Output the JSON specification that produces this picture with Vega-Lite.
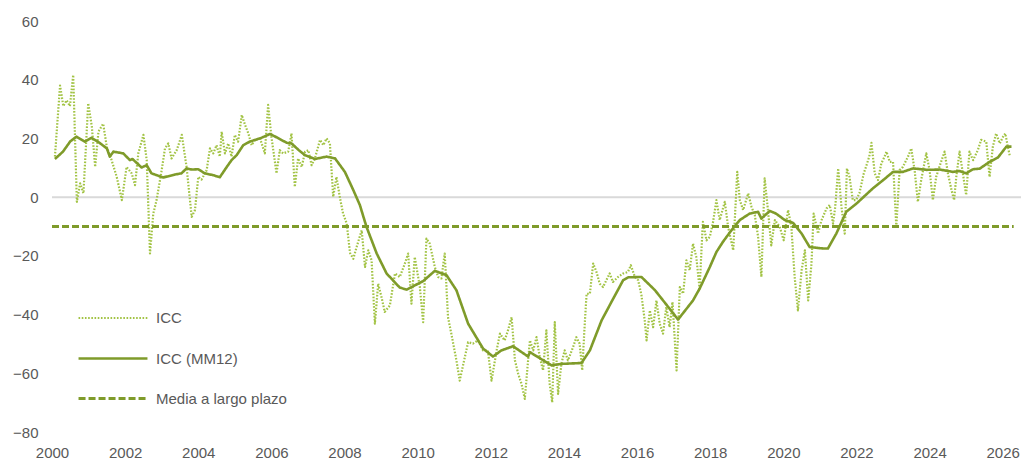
{
 "$schema": "https://vega.github.io/schema/vega-lite/v6.json",
 "width": 969, "height": 411,
 "autosize": {"type": "none"},
 "padding": {"left": 52, "top": 21, "right": 7, "bottom": 29},
 "background": "white",
 "config": {"view": {"stroke": null}, "font": "Liberation Sans"},
 "datasets": {
  "lines": [
{"t":2000.08,"v":13.8,"s":"ICC"},{"t":2000.22,"v":38,"s":"ICC"},{"t":2000.31,"v":31,"s":"ICC"},{"t":2000.40,"v":33,"s":"ICC"},{"t":2000.49,"v":31,"s":"ICC"},{"t":2000.58,"v":41.6,"s":"ICC"},{"t":2000.68,"v":-1.6,"s":"ICC"},{"t":2000.77,"v":4.7,"s":"ICC"},{"t":2000.86,"v":1.3,"s":"ICC"},{"t":2000.99,"v":32,"s":"ICC"},
{"t":2001.09,"v":24,"s":"ICC"},{"t":2001.18,"v":10.3,"s":"ICC"},{"t":2001.27,"v":22.3,"s":"ICC"},{"t":2001.40,"v":25,"s":"ICC"},{"t":2001.50,"v":17,"s":"ICC"},{"t":2001.63,"v":12.6,"s":"ICC"},{"t":2001.77,"v":6.9,"s":"ICC"},{"t":2001.91,"v":-1,"s":"ICC"},
{"t":2002.04,"v":10.3,"s":"ICC"},{"t":2002.18,"v":8.1,"s":"ICC"},{"t":2002.27,"v":4.1,"s":"ICC"},{"t":2002.36,"v":14.9,"s":"ICC"},{"t":2002.50,"v":21.2,"s":"ICC"},{"t":2002.59,"v":12.6,"s":"ICC"},{"t":2002.68,"v":-19.2,"s":"ICC"},{"t":2002.77,"v":-5.6,"s":"ICC"},{"t":2002.86,"v":-1,"s":"ICC"},
{"t":2003.00,"v":9.2,"s":"ICC"},{"t":2003.09,"v":16.6,"s":"ICC"},{"t":2003.18,"v":18.3,"s":"ICC"},{"t":2003.27,"v":13.2,"s":"ICC"},{"t":2003.41,"v":16,"s":"ICC"},{"t":2003.55,"v":21.2,"s":"ICC"},{"t":2003.68,"v":10.3,"s":"ICC"},{"t":2003.82,"v":-6.7,"s":"ICC"},{"t":2003.91,"v":-4.4,"s":"ICC"},
{"t":2004.00,"v":6.9,"s":"ICC"},{"t":2004.09,"v":6,"s":"ICC"},{"t":2004.23,"v":9.2,"s":"ICC"},{"t":2004.32,"v":16.6,"s":"ICC"},{"t":2004.41,"v":14.9,"s":"ICC"},{"t":2004.50,"v":17.7,"s":"ICC"},{"t":2004.59,"v":13.8,"s":"ICC"},{"t":2004.64,"v":22.3,"s":"ICC"},{"t":2004.73,"v":14.9,"s":"ICC"},{"t":2004.82,"v":18.3,"s":"ICC"},{"t":2004.91,"v":13.8,"s":"ICC"},
{"t":2005.00,"v":21.2,"s":"ICC"},{"t":2005.09,"v":18.9,"s":"ICC"},{"t":2005.19,"v":28,"s":"ICC"},{"t":2005.28,"v":24.6,"s":"ICC"},{"t":2005.37,"v":21.7,"s":"ICC"},{"t":2005.46,"v":17.7,"s":"ICC"},{"t":2005.55,"v":19.5,"s":"ICC"},{"t":2005.69,"v":20,"s":"ICC"},{"t":2005.82,"v":14.9,"s":"ICC"},{"t":2005.91,"v":31.4,"s":"ICC"},
{"t":2006.00,"v":20.6,"s":"ICC"},{"t":2006.14,"v":8.1,"s":"ICC"},{"t":2006.23,"v":16,"s":"ICC"},{"t":2006.32,"v":14.9,"s":"ICC"},{"t":2006.46,"v":15.5,"s":"ICC"},{"t":2006.55,"v":21.7,"s":"ICC"},{"t":2006.64,"v":3.5,"s":"ICC"},{"t":2006.73,"v":13.2,"s":"ICC"},{"t":2006.83,"v":10.3,"s":"ICC"},{"t":2006.92,"v":15.5,"s":"ICC"},
{"t":2007.01,"v":16,"s":"ICC"},{"t":2007.10,"v":10.9,"s":"ICC"},{"t":2007.19,"v":13.2,"s":"ICC"},{"t":2007.33,"v":19.5,"s":"ICC"},{"t":2007.42,"v":17.7,"s":"ICC"},{"t":2007.51,"v":20,"s":"ICC"},{"t":2007.60,"v":18.3,"s":"ICC"},{"t":2007.69,"v":0.1,"s":"ICC"},{"t":2007.78,"v":6.9,"s":"ICC"},{"t":2007.87,"v":0.1,"s":"ICC"},{"t":2007.96,"v":-5.6,"s":"ICC"},
{"t":2008.06,"v":-9,"s":"ICC"},{"t":2008.15,"v":-19,"s":"ICC"},{"t":2008.24,"v":-21,"s":"ICC"},{"t":2008.33,"v":-17,"s":"ICC"},{"t":2008.47,"v":-11.3,"s":"ICC"},{"t":2008.56,"v":-23.8,"s":"ICC"},{"t":2008.65,"v":-18.1,"s":"ICC"},{"t":2008.74,"v":-21.5,"s":"ICC"},{"t":2008.83,"v":-43.1,"s":"ICC"},{"t":2008.92,"v":-29.5,"s":"ICC"},
{"t":2009.01,"v":-34,"s":"ICC"},{"t":2009.10,"v":-39.1,"s":"ICC"},{"t":2009.24,"v":-36.9,"s":"ICC"},{"t":2009.38,"v":-26,"s":"ICC"},{"t":2009.51,"v":-27.2,"s":"ICC"},{"t":2009.65,"v":-22.6,"s":"ICC"},{"t":2009.74,"v":-19.2,"s":"ICC"},{"t":2009.83,"v":-36.3,"s":"ICC"},{"t":2009.92,"v":-20.4,"s":"ICC"},
{"t":2010.06,"v":-30.6,"s":"ICC"},{"t":2010.15,"v":-42.6,"s":"ICC"},{"t":2010.24,"v":-14.1,"s":"ICC"},{"t":2010.33,"v":-15.8,"s":"ICC"},{"t":2010.47,"v":-23.8,"s":"ICC"},{"t":2010.56,"v":-27.2,"s":"ICC"},{"t":2010.65,"v":-27.7,"s":"ICC"},{"t":2010.74,"v":-19.2,"s":"ICC"},{"t":2010.83,"v":-40.9,"s":"ICC"},{"t":2010.93,"v":-47.1,"s":"ICC"},
{"t":2011.06,"v":-55.6,"s":"ICC"},{"t":2011.15,"v":-62.5,"s":"ICC"},{"t":2011.29,"v":-54.5,"s":"ICC"},{"t":2011.38,"v":-49.4,"s":"ICC"},{"t":2011.51,"v":-49.9,"s":"ICC"},{"t":2011.65,"v":-48.8,"s":"ICC"},{"t":2011.79,"v":-52.2,"s":"ICC"},{"t":2011.92,"v":-52.2,"s":"ICC"},
{"t":2012.02,"v":-62.5,"s":"ICC"},{"t":2012.16,"v":-52.2,"s":"ICC"},{"t":2012.25,"v":-46.5,"s":"ICC"},{"t":2012.38,"v":-48.8,"s":"ICC"},{"t":2012.47,"v":-45.4,"s":"ICC"},{"t":2012.57,"v":-40.9,"s":"ICC"},{"t":2012.66,"v":-55.6,"s":"ICC"},{"t":2012.75,"v":-60.2,"s":"ICC"},{"t":2012.84,"v":-63.6,"s":"ICC"},{"t":2012.93,"v":-68.7,"s":"ICC"},
{"t":2013.02,"v":-55.6,"s":"ICC"},{"t":2013.07,"v":-48.8,"s":"ICC"},{"t":2013.16,"v":-52.2,"s":"ICC"},{"t":2013.25,"v":-47.7,"s":"ICC"},{"t":2013.34,"v":-54.5,"s":"ICC"},{"t":2013.43,"v":-59,"s":"ICC"},{"t":2013.52,"v":-45.4,"s":"ICC"},{"t":2013.61,"v":-63.6,"s":"ICC"},{"t":2013.68,"v":-69.9,"s":"ICC"},{"t":2013.75,"v":-42.6,"s":"ICC"},{"t":2013.84,"v":-67,"s":"ICC"},{"t":2013.93,"v":-56.8,"s":"ICC"},
{"t":2014.02,"v":-52.2,"s":"ICC"},{"t":2014.11,"v":-55.6,"s":"ICC"},{"t":2014.25,"v":-51.1,"s":"ICC"},{"t":2014.34,"v":-47.7,"s":"ICC"},{"t":2014.43,"v":-49.9,"s":"ICC"},{"t":2014.50,"v":-59,"s":"ICC"},{"t":2014.57,"v":-43.1,"s":"ICC"},{"t":2014.62,"v":-32.9,"s":"ICC"},{"t":2014.71,"v":-32.9,"s":"ICC"},{"t":2014.80,"v":-22.6,"s":"ICC"},{"t":2014.89,"v":-25.5,"s":"ICC"},{"t":2014.98,"v":-29.5,"s":"ICC"},
{"t":2015.07,"v":-30.6,"s":"ICC"},{"t":2015.16,"v":-28.3,"s":"ICC"},{"t":2015.25,"v":-26,"s":"ICC"},{"t":2015.34,"v":-28.9,"s":"ICC"},{"t":2015.48,"v":-27.2,"s":"ICC"},{"t":2015.62,"v":-26,"s":"ICC"},{"t":2015.75,"v":-25.5,"s":"ICC"},{"t":2015.83,"v":-23.2,"s":"ICC"},{"t":2015.94,"v":-27.2,"s":"ICC"},
{"t":2016.03,"v":-28.3,"s":"ICC"},{"t":2016.12,"v":-33.4,"s":"ICC"},{"t":2016.21,"v":-42,"s":"ICC"},{"t":2016.26,"v":-48.8,"s":"ICC"},{"t":2016.35,"v":-38.6,"s":"ICC"},{"t":2016.44,"v":-44.3,"s":"ICC"},{"t":2016.53,"v":-35.2,"s":"ICC"},{"t":2016.62,"v":-43.1,"s":"ICC"},{"t":2016.71,"v":-46.5,"s":"ICC"},{"t":2016.80,"v":-37.4,"s":"ICC"},{"t":2016.89,"v":-44.3,"s":"ICC"},{"t":2016.97,"v":-35.7,"s":"ICC"},
{"t":2017.08,"v":-59,"s":"ICC"},{"t":2017.17,"v":-30.6,"s":"ICC"},{"t":2017.26,"v":-32.9,"s":"ICC"},{"t":2017.35,"v":-21.5,"s":"ICC"},{"t":2017.44,"v":-24.9,"s":"ICC"},{"t":2017.53,"v":-15.8,"s":"ICC"},{"t":2017.62,"v":-20.4,"s":"ICC"},{"t":2017.71,"v":-31.2,"s":"ICC"},{"t":2017.80,"v":-8.4,"s":"ICC"},{"t":2017.90,"v":-14.7,"s":"ICC"},{"t":2017.99,"v":-13.5,"s":"ICC"},
{"t":2018.08,"v":-8.4,"s":"ICC"},{"t":2018.17,"v":-1,"s":"ICC"},{"t":2018.26,"v":-7.8,"s":"ICC"},{"t":2018.40,"v":-1.6,"s":"ICC"},{"t":2018.49,"v":-10.1,"s":"ICC"},{"t":2018.63,"v":-18.1,"s":"ICC"},{"t":2018.74,"v":8.6,"s":"ICC"},{"t":2018.81,"v":-1,"s":"ICC"},{"t":2018.90,"v":-4.4,"s":"ICC"},
{"t":2019.04,"v":1.3,"s":"ICC"},{"t":2019.13,"v":-3.3,"s":"ICC"},{"t":2019.22,"v":-6.1,"s":"ICC"},{"t":2019.31,"v":-13.5,"s":"ICC"},{"t":2019.40,"v":-27.2,"s":"ICC"},{"t":2019.49,"v":6.4,"s":"ICC"},{"t":2019.58,"v":-4.4,"s":"ICC"},{"t":2019.67,"v":-16.4,"s":"ICC"},{"t":2019.77,"v":-7.8,"s":"ICC"},{"t":2019.90,"v":-10.1,"s":"ICC"},
{"t":2020.01,"v":-14.7,"s":"ICC"},{"t":2020.13,"v":-4.4,"s":"ICC"},{"t":2020.22,"v":-10.1,"s":"ICC"},{"t":2020.31,"v":-27.2,"s":"ICC"},{"t":2020.40,"v":-38.6,"s":"ICC"},{"t":2020.50,"v":-24.9,"s":"ICC"},{"t":2020.59,"v":-18.1,"s":"ICC"},{"t":2020.68,"v":-35.2,"s":"ICC"},{"t":2020.77,"v":-22.6,"s":"ICC"},{"t":2020.83,"v":-5.6,"s":"ICC"},{"t":2020.95,"v":-12.4,"s":"ICC"},
{"t":2021.04,"v":-8,"s":"ICC"},{"t":2021.18,"v":-3.9,"s":"ICC"},{"t":2021.27,"v":-2.7,"s":"ICC"},{"t":2021.36,"v":-9,"s":"ICC"},{"t":2021.42,"v":-3.3,"s":"ICC"},{"t":2021.50,"v":9.8,"s":"ICC"},{"t":2021.59,"v":-3.3,"s":"ICC"},{"t":2021.68,"v":-12.4,"s":"ICC"},{"t":2021.74,"v":9.8,"s":"ICC"},{"t":2021.81,"v":6.9,"s":"ICC"},{"t":2021.90,"v":-1,"s":"ICC"},{"t":2021.99,"v":-1,"s":"ICC"},
{"t":2022.08,"v":1.3,"s":"ICC"},{"t":2022.20,"v":8.1,"s":"ICC"},{"t":2022.26,"v":10.3,"s":"ICC"},{"t":2022.35,"v":13.8,"s":"ICC"},{"t":2022.41,"v":18.5,"s":"ICC"},{"t":2022.50,"v":8.1,"s":"ICC"},{"t":2022.59,"v":5.8,"s":"ICC"},{"t":2022.68,"v":11.5,"s":"ICC"},{"t":2022.77,"v":13.8,"s":"ICC"},{"t":2022.82,"v":15.5,"s":"ICC"},{"t":2022.91,"v":12,"s":"ICC"},
{"t":2023.00,"v":12,"s":"ICC"},{"t":2023.09,"v":-10.1,"s":"ICC"},{"t":2023.18,"v":9.2,"s":"ICC"},{"t":2023.27,"v":10.3,"s":"ICC"},{"t":2023.41,"v":13.8,"s":"ICC"},{"t":2023.50,"v":16.6,"s":"ICC"},{"t":2023.59,"v":9.2,"s":"ICC"},{"t":2023.68,"v":-1.6,"s":"ICC"},{"t":2023.77,"v":5.8,"s":"ICC"},{"t":2023.91,"v":14.9,"s":"ICC"},
{"t":2024.00,"v":9.2,"s":"ICC"},{"t":2024.09,"v":-1,"s":"ICC"},{"t":2024.18,"v":6.9,"s":"ICC"},{"t":2024.30,"v":11.5,"s":"ICC"},{"t":2024.41,"v":15.5,"s":"ICC"},{"t":2024.50,"v":8.1,"s":"ICC"},{"t":2024.60,"v":2.4,"s":"ICC"},{"t":2024.67,"v":-1,"s":"ICC"},{"t":2024.73,"v":6.9,"s":"ICC"},{"t":2024.82,"v":15.5,"s":"ICC"},{"t":2024.91,"v":8.1,"s":"ICC"},
{"t":2025.00,"v":0.7,"s":"ICC"},{"t":2025.09,"v":15.5,"s":"ICC"},{"t":2025.19,"v":12.6,"s":"ICC"},{"t":2025.32,"v":16,"s":"ICC"},{"t":2025.41,"v":19.5,"s":"ICC"},{"t":2025.55,"v":18.9,"s":"ICC"},{"t":2025.64,"v":6.9,"s":"ICC"},{"t":2025.73,"v":17.2,"s":"ICC"},{"t":2025.82,"v":21.7,"s":"ICC"},{"t":2025.92,"v":18.3,"s":"ICC"},
{"t":2026.01,"v":20.6,"s":"ICC"},{"t":2026.07,"v":21.7,"s":"ICC"},{"t":2026.14,"v":17.2,"s":"ICC"},{"t":2026.19,"v":14.3,"s":"ICC"},

{"t":2000.08,"v":13,"s":"ICC (MM12)"},{"t":2000.3,"v":15.5,"s":"ICC (MM12)"},{"t":2000.5,"v":19,"s":"ICC (MM12)"},{"t":2000.67,"v":20.6,"s":"ICC (MM12)"},{"t":2000.9,"v":18.9,"s":"ICC (MM12)"},{"t":2001.08,"v":20.2,"s":"ICC (MM12)"},{"t":2001.3,"v":18.5,"s":"ICC (MM12)"},{"t":2001.5,"v":16.6,"s":"ICC (MM12)"},{"t":2001.58,"v":13.8,"s":"ICC (MM12)"},{"t":2001.68,"v":15.5,"s":"ICC (MM12)"},{"t":2001.95,"v":14.9,"s":"ICC (MM12)"},
{"t":2002.13,"v":12.6,"s":"ICC (MM12)"},{"t":2002.2,"v":13,"s":"ICC (MM12)"},{"t":2002.45,"v":10.1,"s":"ICC (MM12)"},{"t":2002.59,"v":10.9,"s":"ICC (MM12)"},{"t":2002.72,"v":8.1,"s":"ICC (MM12)"},{"t":2003.04,"v":6.7,"s":"ICC (MM12)"},{"t":2003.36,"v":7.7,"s":"ICC (MM12)"},{"t":2003.54,"v":8.1,"s":"ICC (MM12)"},{"t":2003.68,"v":9.8,"s":"ICC (MM12)"},{"t":2003.82,"v":9.4,"s":"ICC (MM12)"},
{"t":2004.0,"v":9.5,"s":"ICC (MM12)"},{"t":2004.18,"v":8.1,"s":"ICC (MM12)"},{"t":2004.4,"v":7.5,"s":"ICC (MM12)"},{"t":2004.59,"v":6.8,"s":"ICC (MM12)"},{"t":2004.78,"v":10.3,"s":"ICC (MM12)"},{"t":2004.91,"v":12.6,"s":"ICC (MM12)"},{"t":2005.05,"v":14.3,"s":"ICC (MM12)"},{"t":2005.23,"v":17.7,"s":"ICC (MM12)"},{"t":2005.41,"v":18.9,"s":"ICC (MM12)"},{"t":2005.55,"v":19.5,"s":"ICC (MM12)"},{"t":2005.69,"v":20,"s":"ICC (MM12)"},{"t":2005.96,"v":21.5,"s":"ICC (MM12)"},
{"t":2006.14,"v":20.4,"s":"ICC (MM12)"},{"t":2006.42,"v":18.5,"s":"ICC (MM12)"},{"t":2006.55,"v":18.3,"s":"ICC (MM12)"},{"t":2006.75,"v":16,"s":"ICC (MM12)"},{"t":2006.92,"v":14.3,"s":"ICC (MM12)"},{"t":2007.19,"v":13,"s":"ICC (MM12)"},{"t":2007.51,"v":13.8,"s":"ICC (MM12)"},{"t":2007.74,"v":13.2,"s":"ICC (MM12)"},
{"t":2008.01,"v":8.6,"s":"ICC (MM12)"},{"t":2008.24,"v":2.4,"s":"ICC (MM12)"},{"t":2008.42,"v":-2.7,"s":"ICC (MM12)"},{"t":2008.6,"v":-10.1,"s":"ICC (MM12)"},{"t":2008.88,"v":-19.2,"s":"ICC (MM12)"},{"t":2009.15,"v":-26,"s":"ICC (MM12)"},{"t":2009.51,"v":-30.8,"s":"ICC (MM12)"},{"t":2009.7,"v":-31.5,"s":"ICC (MM12)"},
{"t":2010.15,"v":-28.6,"s":"ICC (MM12)"},{"t":2010.47,"v":-25.1,"s":"ICC (MM12)"},{"t":2010.79,"v":-26.6,"s":"ICC (MM12)"},{"t":2011.06,"v":-31.7,"s":"ICC (MM12)"},{"t":2011.38,"v":-43.1,"s":"ICC (MM12)"},{"t":2011.79,"v":-51.6,"s":"ICC (MM12)"},{"t":2012.06,"v":-54.3,"s":"ICC (MM12)"},{"t":2012.29,"v":-52.2,"s":"ICC (MM12)"},{"t":2012.61,"v":-50.8,"s":"ICC (MM12)"},
{"t":2013.02,"v":-54.3,"s":"ICC (MM12)"},{"t":2013.07,"v":-52.8,"s":"ICC (MM12)"},{"t":2013.66,"v":-57.3,"s":"ICC (MM12)"},{"t":2013.93,"v":-56.8,"s":"ICC (MM12)"},{"t":2014.48,"v":-56.5,"s":"ICC (MM12)"},{"t":2014.71,"v":-52.2,"s":"ICC (MM12)"},{"t":2015.03,"v":-42,"s":"ICC (MM12)"},{"t":2015.3,"v":-35.7,"s":"ICC (MM12)"},{"t":2015.62,"v":-28.3,"s":"ICC (MM12)"},{"t":2015.76,"v":-27.3,"s":"ICC (MM12)"},
{"t":2016.12,"v":-27.2,"s":"ICC (MM12)"},{"t":2016.49,"v":-31.7,"s":"ICC (MM12)"},{"t":2016.89,"v":-38,"s":"ICC (MM12)"},{"t":2017.12,"v":-41.7,"s":"ICC (MM12)"},{"t":2017.53,"v":-35.2,"s":"ICC (MM12)"},{"t":2017.71,"v":-31.2,"s":"ICC (MM12)"},{"t":2017.99,"v":-23.8,"s":"ICC (MM12)"},
{"t":2018.17,"v":-18.7,"s":"ICC (MM12)"},{"t":2018.35,"v":-15.2,"s":"ICC (MM12)"},{"t":2018.58,"v":-11.3,"s":"ICC (MM12)"},{"t":2018.81,"v":-7.8,"s":"ICC (MM12)"},{"t":2019.08,"v":-5.6,"s":"ICC (MM12)"},{"t":2019.31,"v":-5,"s":"ICC (MM12)"},{"t":2019.4,"v":-7.3,"s":"ICC (MM12)"},{"t":2019.63,"v":-4.7,"s":"ICC (MM12)"},{"t":2019.8,"v":-5.6,"s":"ICC (MM12)"},
{"t":2020.04,"v":-7.8,"s":"ICC (MM12)"},{"t":2020.27,"v":-8.8,"s":"ICC (MM12)"},{"t":2020.5,"v":-12.4,"s":"ICC (MM12)"},{"t":2020.72,"v":-17,"s":"ICC (MM12)"},{"t":2021.09,"v":-17.5,"s":"ICC (MM12)"},{"t":2021.22,"v":-17.5,"s":"ICC (MM12)"},{"t":2021.45,"v":-12.4,"s":"ICC (MM12)"},{"t":2021.72,"v":-5,"s":"ICC (MM12)"},
{"t":2022.0,"v":-2.2,"s":"ICC (MM12)"},{"t":2022.45,"v":3,"s":"ICC (MM12)"},{"t":2022.73,"v":5.8,"s":"ICC (MM12)"},{"t":2023.0,"v":8.6,"s":"ICC (MM12)"},{"t":2023.27,"v":8.6,"s":"ICC (MM12)"},{"t":2023.55,"v":9.8,"s":"ICC (MM12)"},{"t":2023.92,"v":9.3,"s":"ICC (MM12)"},{"t":2024.28,"v":9.4,"s":"ICC (MM12)"},{"t":2024.64,"v":8.6,"s":"ICC (MM12)"},{"t":2024.82,"v":8.9,"s":"ICC (MM12)"},
{"t":2025.0,"v":8.1,"s":"ICC (MM12)"},{"t":2025.19,"v":9.5,"s":"ICC (MM12)"},{"t":2025.37,"v":9.7,"s":"ICC (MM12)"},{"t":2025.64,"v":12,"s":"ICC (MM12)"},{"t":2025.87,"v":13.5,"s":"ICC (MM12)"},{"t":2026.1,"v":17.2,"s":"ICC (MM12)"},{"t":2026.24,"v":17.2,"s":"ICC (MM12)"},

{"t":2000.0,"v":-10,"s":"Media a largo plazo"},{"t":2026.3,"v":-10,"s":"Media a largo plazo"}
  ]
 },
 "layer": [
  {
   "data": {"values": [{"v": 0}]},
   "mark": {"type": "rule", "color": "#d9d9d9", "strokeWidth": 2},
   "encoding": {
    "y": {"field": "v", "type": "quantitative", "scale": {"domain": [-80, 60], "nice": false},
     "axis": {"values": [-80, -60, -40, -20, 0, 20, 40, 60], "grid": false, "domain": false, "ticks": false, "tickSize": 0, "labelPadding": 14, "labelFontSize": 15, "labelColor": "#595959", "labelFont": "Liberation Sans", "title": null}}
   }
  },
  {
   "data": {"name": "lines"},
   "mark": {"type": "line", "strokeCap": "butt", "strokeJoin": "round"},
   "encoding": {
    "x": {"field": "t", "type": "quantitative", "scale": {"domain": [2000, 2026.5], "nice": false, "zero": false},
     "axis": {"values": [2000, 2002, 2004, 2006, 2008, 2010, 2012, 2014, 2016, 2018, 2020, 2022, 2024, 2026], "format": "d", "grid": false, "domain": false, "ticks": false, "tickSize": 0, "labelPadding": 13, "labelFontSize": 15, "labelColor": "#595959", "labelFont": "Liberation Sans", "labelFlush": false, "labelOverlap": false, "title": null}},
    "y": {"field": "v", "type": "quantitative"},
    "color": {"field": "s", "type": "nominal",
     "scale": {"domain": ["ICC", "ICC (MM12)", "Media a largo plazo"], "range": ["#A2C344", "#7F9B2A", "#7F9B2A"]},
     "legend": {"orient": "none", "legendX": 31, "legendY": 267.5, "title": null, "padding": 0, "symbolType": "M-1.22,0H1.22", "symbolSize": 3192, "symbolStrokeWidth": 2.5, "labelFontSize": 15, "labelColor": "#595959", "labelFont": "Liberation Sans", "labelOffset": 13, "rowPadding": 2}},
    "strokeDash": {"field": "s", "type": "nominal",
     "scale": {"domain": ["ICC", "ICC (MM12)", "Media a largo plazo"], "range": [[1.6, 1.6], [1, 0], [7, 3]]},
     "legend": {"orient": "none", "legendX": 31, "legendY": 267.5, "title": null, "padding": 0, "symbolType": "M-1.22,0H1.22", "symbolSize": 3192, "symbolStrokeWidth": 2.5, "labelFontSize": 15, "labelColor": "#595959", "labelFont": "Liberation Sans", "labelOffset": 13, "rowPadding": 2}},
    "strokeWidth": {"field": "s", "type": "ordinal",
     "scale": {"domain": ["ICC", "ICC (MM12)", "Media a largo plazo"], "range": [2.2, 3, 2.5]},
     "legend": {"orient": "none", "legendX": 31, "legendY": 267.5, "title": null, "padding": 0, "symbolType": "M-1.22,0H1.22", "symbolSize": 3192, "labelFontSize": 15, "labelColor": "#595959", "labelFont": "Liberation Sans", "labelOffset": 13, "rowPadding": 2}}
   }
  }
 ]
}
